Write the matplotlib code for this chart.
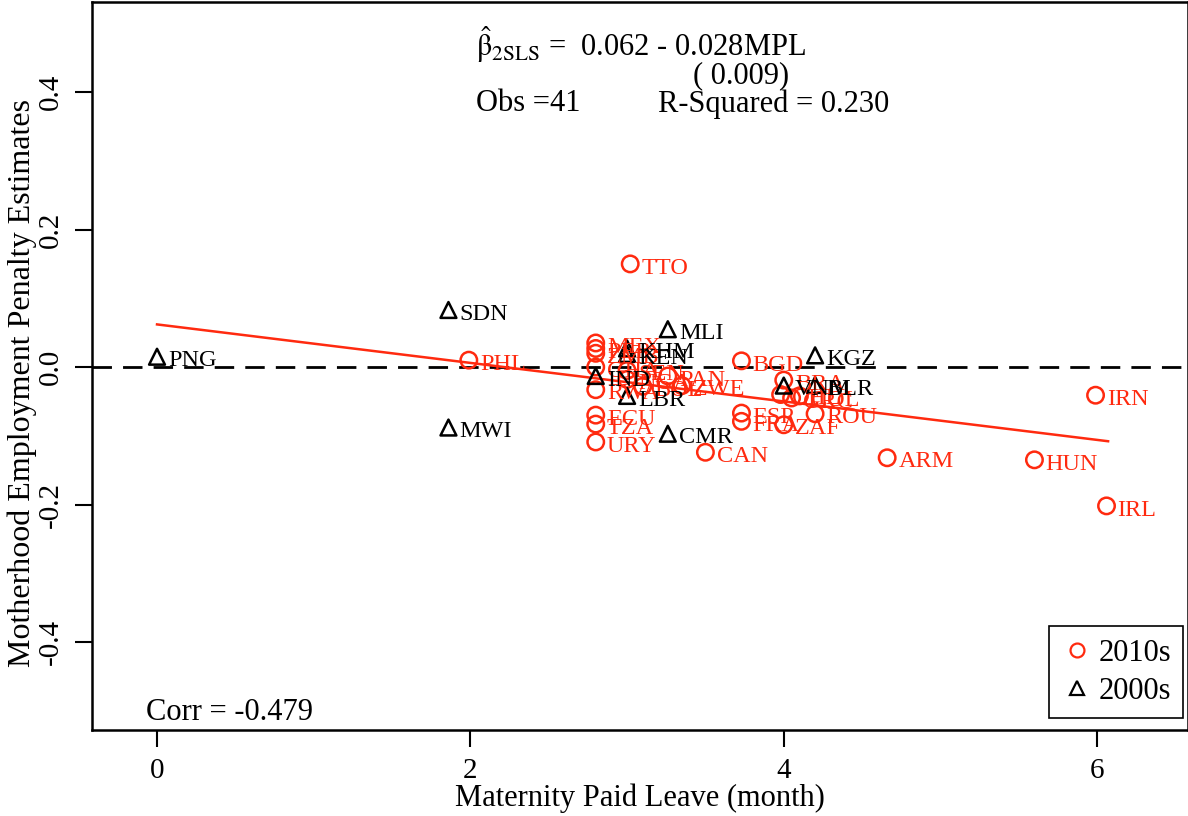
import matplotlib
matplotlib.use("Agg")
import matplotlib.pyplot as plt
import numpy as np
from matplotlib.lines import Line2D

plt.rcParams['font.family'] = ['Liberation Serif', 'DejaVu Serif']
plt.rcParams['mathtext.fontset'] = 'stix'

# 2010s countries (red circles)
codes_10 = ['TTO', 'PHL', 'BGD', 'IRN', 'IRL', 'HUN', 'ARM', 'CAN', 'ROU', 'ZAF',
            'FRA', 'ESP', 'BRA', 'CHL', 'GRC', 'COL', 'MEX', 'PER', 'ZMB', 'GHA',
            'RWA', 'ECU', 'TZA', 'URY', 'PAN', 'ZWE', 'NGA', 'BOL', 'SEN']
leave_10 = [3.02, 1.99, 3.73, 5.99, 6.06, 5.60, 4.66, 3.50, 4.20, 4.00,
            3.73, 3.73, 4.00, 3.98, 4.05, 4.10, 2.80, 2.80, 2.80, 2.80,
            2.80, 2.80, 2.80, 2.80, 3.26, 3.35, 3.00, 3.10, 3.00]
penalty_10 = [0.150, 0.010, 0.009, -0.041, -0.202, -0.135, -0.132, -0.124, -0.068, -0.084,
              -0.079, -0.067, -0.019, -0.040, -0.045, -0.042, 0.035, 0.027, 0.020, 0.000,
              -0.033, -0.070, -0.083, -0.109, -0.013, -0.027, -0.018, -0.028, -0.005]

# 2000s countries (black triangles)
codes_00 = ['PNG', 'SDN', 'MWI', 'MLI', 'KHM', 'KEN', 'IND', 'LBR', 'CMR', 'KGZ', 'VNM', 'BLR']
leave_00 = [0.0, 1.86, 1.86, 3.26, 3.0, 3.0, 2.8, 3.0, 3.26, 4.2, 4.0, 4.2]
penalty_00 = [0.015, 0.083, -0.088, 0.055, 0.027, 0.019, -0.013, -0.042, -0.097, 0.017, -0.027, -0.026]

# fitted line
intercept = 0.062
slope = -0.028
fit_range = [0.0, 6.07]

RED = '#ff2a0f'

fig = plt.figure(figsize=(11.88, 8.16), dpi=100)
ax = fig.add_axes([92 / 1188, 1 - 730 / 816, 1 - 92 / 1188, (730 - 2) / 816])

ax.axhline(0, color='black', lw=2, dashes=(7, 4), zorder=1)
xf = np.array(fit_range)
ax.plot(xf, intercept + slope * xf, color=RED, lw=1.8, zorder=2)

ax.scatter(leave_10, penalty_10, s=140, facecolors='none', edgecolors=RED,
           linewidths=1.8, marker='o', zorder=3)
ax.scatter(leave_00, penalty_00, s=130, facecolors='none', edgecolors='black',
           linewidths=1.8, marker='^', zorder=3)

for c, x, y in zip(codes_10, leave_10, penalty_10):
    ax.annotate(c, (x, y), xytext=(8, -3), textcoords='offset points',
                va='center', ha='left', fontsize=17.5, color=RED, zorder=4)
for c, x, y in zip(codes_00, leave_00, penalty_00):
    ax.annotate(c, (x, y), xytext=(8, -3), textcoords='offset points',
                va='center', ha='left', fontsize=17.5, color='black', zorder=4)

ax.set_xlim(-0.415, 6.58)
ax.set_ylim(-0.528, 0.531)
ax.set_xticks([0, 2, 4, 6])
ax.set_yticks([-0.4, -0.2, 0.0, 0.2, 0.4])
ax.set_yticklabels(['-0.4', '-0.2', '0.0', '0.2', '0.4'], rotation=90, va='center')
ax.tick_params(direction='out', length=12, width=1.5, labelsize=21, pad=8)
for s in ax.spines.values():
    s.set_linewidth(1.8)

ax.set_xlabel('Maternity Paid Leave (month)', fontsize=22, labelpad=0)
fig.text(22 / 1188, 1 - 383 / 816, 'Motherhood Employment Penalty Estimates',
         rotation=90, ha='center', va='center', fontsize=23)

ax.text(0.35, 0.941, r'$\hat{\mathrm{\beta}}_{\mathrm{2SLS}}$' + ' =  0.062 - 0.028MPL',
        transform=ax.transAxes, fontsize=22, va='center', ha='left')
ax.text(0.548, 0.899, '( 0.009)', transform=ax.transAxes, fontsize=22, va='center', ha='left')
ax.text(0.35, 0.86, 'Obs =41', transform=ax.transAxes, fontsize=22, va='center', ha='left')
ax.text(0.516, 0.86, 'R-Squared = 0.230', transform=ax.transAxes, fontsize=22, va='center', ha='left')
ax.text(0.049, 0.024, 'Corr = -0.479', transform=ax.transAxes, fontsize=22, va='center', ha='left')

handles = [Line2D([], [], ls='none', marker='o', mfc='none', mec=RED, ms=10, mew=1.6),
           Line2D([], [], ls='none', marker='^', mfc='none', mec='black', ms=10, mew=1.6)]
leg = ax.legend(handles, ['2010s', '2000s'], loc='lower right', fontsize=22,
                bbox_to_anchor=(1 - 5 / 1096, 12 / 728),
                frameon=True, fancybox=False, framealpha=1, edgecolor='black',
                handletextpad=0.2, handlelength=1.0, borderpad=0.4,
                labelspacing=0.3, borderaxespad=0)
leg.get_frame().set_linewidth(1.2)

fig.savefig('out.png', dpi=100)
